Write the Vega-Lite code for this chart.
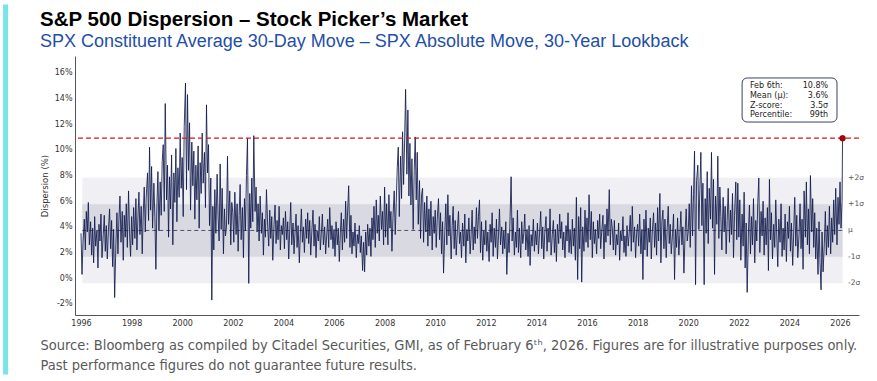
{
"$schema": "https://vega.github.io/schema/vega-lite/v6.json",
"width": 784, "height": 259,
"autosize": {"type": "none"},
"padding": {"left": 75, "top": 56, "right": 18, "bottom": 66},
"background": "white",
"config": {"view": {"stroke": null}, "axis": {"grid": false, "ticks": false, "labelOverlap": false, "domainColor": "#555555", "domainWidth": 1, "labelFont": "DejaVu Sans", "labelFontSize": 8, "labelColor": "#333333"}},
"title": {"text": "S&P 500 Dispersion – Stock Picker’s Market", "subtitle": "SPX Constituent Average 30-Day Move – SPX Absolute Move, 30-Year Lookback", "anchor": "start", "frame": "group", "dx": -35, "dy": 52, "offset": 6, "font": "Liberation Sans", "fontSize": 20.5, "fontWeight": "bold", "color": "#000000", "subtitleFont": "Liberation Sans", "subtitleFontSize": 18, "subtitleColor": "#1f4fa8", "subtitlePadding": 2},
"datasets": {
"bands": [{"b": "2σ", "lo": -0.38, "hi": 7.82}, {"b": "1σ", "lo": 1.67, "hi": 5.77}],
"levels": [{"name": "+2σ", "y": 7.82}, {"name": "+1σ", "y": 5.77}, {"name": "μ", "y": 3.72}, {"name": "-1σ", "y": 1.67}, {"name": "-2σ", "y": -0.38}],
"latest": [{"t": 2026.1, "v": 10.9}],
"stats": [{"keys": ["Feb 6th:", "Mean (μ):", "Z-score:", "Percentile:"], "vals": ["10.8%", "3.6%", "3.5σ", "99th"]}],
"series": [
{"t":1996.00,"v":3.5},{"t":1996.04,"v":0.3},{"t":1996.08,"v":2.8},{"t":1996.13,"v":4.6},{"t":1996.17,"v":2.2},{"t":1996.21,"v":5.2},{"t":1996.25,"v":3.6},{"t":1996.29,"v":5.9},{"t":1996.33,"v":2.6},{"t":1996.38,"v":4.4},{"t":1996.42,"v":1.8},{"t":1996.46,"v":3.9},{"t":1996.50,"v":1.2},{"t":1996.54,"v":4.8},{"t":1996.58,"v":2.5},{"t":1996.63,"v":3.7},{"t":1996.67,"v":0.8},{"t":1996.71,"v":4.2},{"t":1996.75,"v":2.9},{"t":1996.79,"v":5.0},{"t":1996.83,"v":1.6},{"t":1996.88,"v":3.4},{"t":1996.92,"v":4.9},{"t":1996.96,"v":2.1},
{"t":1997.00,"v":4.1},{"t":1997.04,"v":1.5},{"t":1997.08,"v":3.6},{"t":1997.13,"v":5.4},{"t":1997.17,"v":2.3},{"t":1997.21,"v":4.5},{"t":1997.25,"v":0.9},{"t":1997.29,"v":3.8},{"t":1997.33,"v":-1.5},{"t":1997.38,"v":2.7},{"t":1997.42,"v":5.1},{"t":1997.46,"v":1.9},{"t":1997.50,"v":4.6},{"t":1997.54,"v":6.4},{"t":1997.58,"v":2.8},{"t":1997.63,"v":5.2},{"t":1997.67,"v":1.4},{"t":1997.71,"v":4.9},{"t":1997.75,"v":3.2},{"t":1997.79,"v":5.8},{"t":1997.83,"v":2.4},{"t":1997.88,"v":6.8},{"t":1997.92,"v":3.5},{"t":1997.96,"v":1.7},
{"t":1998.00,"v":4.8},{"t":1998.04,"v":2.6},{"t":1998.08,"v":5.5},{"t":1998.13,"v":3.1},{"t":1998.17,"v":6.2},{"t":1998.21,"v":2.2},{"t":1998.25,"v":4.7},{"t":1998.29,"v":6.7},{"t":1998.33,"v":3.4},{"t":1998.38,"v":5.6},{"t":1998.42,"v":1.9},{"t":1998.46,"v":5.0},{"t":1998.50,"v":7.1},{"t":1998.54,"v":3.6},{"t":1998.58,"v":6.4},{"t":1998.63,"v":8.2},{"t":1998.67,"v":4.5},{"t":1998.71,"v":10.2},{"t":1998.75,"v":5.3},{"t":1998.79,"v":8.7},{"t":1998.83,"v":3.9},{"t":1998.88,"v":7.4},{"t":1998.92,"v":4.8},{"t":1998.96,"v":0.7},
{"t":1999.00,"v":5.6},{"t":1999.04,"v":8.3},{"t":1999.08,"v":3.7},{"t":1999.13,"v":7.5},{"t":1999.17,"v":4.9},{"t":1999.21,"v":9.1},{"t":1999.25,"v":10.4},{"t":1999.29,"v":5.2},{"t":1999.33,"v":13.6},{"t":1999.38,"v":6.1},{"t":1999.42,"v":8.8},{"t":1999.46,"v":3.2},{"t":1999.50,"v":7.9},{"t":1999.54,"v":5.4},{"t":1999.58,"v":9.6},{"t":1999.63,"v":2.6},{"t":1999.67,"v":8.2},{"t":1999.71,"v":5.9},{"t":1999.75,"v":10.1},{"t":1999.79,"v":4.4},{"t":1999.83,"v":8.6},{"t":1999.88,"v":6.3},{"t":1999.92,"v":11.3},{"t":1999.96,"v":7.0},
{"t":2000.00,"v":9.4},{"t":2000.04,"v":4.8},{"t":2000.08,"v":11.8},{"t":2000.13,"v":15.2},{"t":2000.17,"v":6.9},{"t":2000.21,"v":14.3},{"t":2000.25,"v":8.4},{"t":2000.29,"v":12.1},{"t":2000.33,"v":5.3},{"t":2000.38,"v":10.6},{"t":2000.42,"v":7.2},{"t":2000.46,"v":9.9},{"t":2000.50,"v":4.6},{"t":2000.54,"v":8.8},{"t":2000.58,"v":6.1},{"t":2000.63,"v":10.3},{"t":2000.67,"v":3.9},{"t":2000.71,"v":9.0},{"t":2000.75,"v":6.6},{"t":2000.79,"v":11.3},{"t":2000.83,"v":7.4},{"t":2000.88,"v":9.8},{"t":2000.92,"v":5.5},{"t":2000.96,"v":13.5},
{"t":2001.00,"v":8.2},{"t":2001.04,"v":10.4},{"t":2001.08,"v":4.1},{"t":2001.13,"v":7.8},{"t":2001.17,"v":-1.7},{"t":2001.21,"v":5.6},{"t":2001.25,"v":2.2},{"t":2001.29,"v":6.9},{"t":2001.33,"v":3.5},{"t":2001.38,"v":8.1},{"t":2001.42,"v":4.7},{"t":2001.46,"v":2.9},{"t":2001.50,"v":8.9},{"t":2001.54,"v":3.8},{"t":2001.58,"v":7.0},{"t":2001.63,"v":1.9},{"t":2001.67,"v":5.4},{"t":2001.71,"v":3.3},{"t":2001.75,"v":4.0},{"t":2001.79,"v":9.5},{"t":2001.83,"v":4.2},{"t":2001.88,"v":6.8},{"t":2001.92,"v":2.6},{"t":2001.96,"v":5.9},
{"t":2002.00,"v":5.1},{"t":2002.04,"v":2.8},{"t":2002.08,"v":6.7},{"t":2002.13,"v":3.4},{"t":2002.17,"v":5.8},{"t":2002.21,"v":2.1},{"t":2002.25,"v":4.9},{"t":2002.29,"v":7.3},{"t":2002.33,"v":3.0},{"t":2002.38,"v":5.5},{"t":2002.42,"v":1.6},{"t":2002.46,"v":6.2},{"t":2002.50,"v":3.7},{"t":2002.54,"v":8.0},{"t":2002.58,"v":10.9},{"t":2002.63,"v":-0.4},{"t":2002.67,"v":6.6},{"t":2002.71,"v":3.9},{"t":2002.75,"v":7.8},{"t":2002.79,"v":4.4},{"t":2002.83,"v":11.1},{"t":2002.88,"v":5.2},{"t":2002.92,"v":7.1},{"t":2002.96,"v":3.6},
{"t":2003.00,"v":5.8},{"t":2003.04,"v":2.9},{"t":2003.08,"v":6.4},{"t":2003.13,"v":3.5},{"t":2003.17,"v":5.1},{"t":2003.21,"v":1.8},{"t":2003.25,"v":4.6},{"t":2003.29,"v":3.2},{"t":2003.33,"v":6.9},{"t":2003.38,"v":4.0},{"t":2003.42,"v":2.5},{"t":2003.46,"v":5.3},{"t":2003.50,"v":3.1},{"t":2003.54,"v":4.8},{"t":2003.58,"v":1.4},{"t":2003.63,"v":4.2},{"t":2003.67,"v":5.7},{"t":2003.71,"v":2.7},{"t":2003.75,"v":4.5},{"t":2003.79,"v":3.0},{"t":2003.83,"v":5.6},{"t":2003.88,"v":2.2},{"t":2003.92,"v":4.1},{"t":2003.96,"v":3.4},
{"t":2004.00,"v":4.7},{"t":2004.04,"v":2.3},{"t":2004.08,"v":5.2},{"t":2004.13,"v":3.0},{"t":2004.17,"v":4.4},{"t":2004.21,"v":1.5},{"t":2004.25,"v":3.8},{"t":2004.29,"v":5.9},{"t":2004.33,"v":2.6},{"t":2004.38,"v":4.3},{"t":2004.42,"v":1.9},{"t":2004.46,"v":3.6},{"t":2004.50,"v":5.0},{"t":2004.54,"v":2.4},{"t":2004.58,"v":4.1},{"t":2004.63,"v":1.2},{"t":2004.67,"v":3.5},{"t":2004.71,"v":5.4},{"t":2004.75,"v":2.8},{"t":2004.79,"v":4.0},{"t":2004.83,"v":2.0},{"t":2004.88,"v":4.6},{"t":2004.92,"v":3.1},{"t":2004.96,"v":5.1},
{"t":2005.00,"v":2.7},{"t":2005.04,"v":4.5},{"t":2005.08,"v":1.8},{"t":2005.13,"v":3.9},{"t":2005.17,"v":5.3},{"t":2005.21,"v":2.5},{"t":2005.25,"v":4.2},{"t":2005.29,"v":1.6},{"t":2005.33,"v":3.7},{"t":2005.38,"v":2.9},{"t":2005.42,"v":4.8},{"t":2005.46,"v":2.2},{"t":2005.50,"v":3.5},{"t":2005.54,"v":5.0},{"t":2005.58,"v":2.6},{"t":2005.63,"v":4.0},{"t":2005.67,"v":1.9},{"t":2005.71,"v":3.3},{"t":2005.75,"v":4.6},{"t":2005.79,"v":2.4},{"t":2005.83,"v":5.5},{"t":2005.88,"v":3.0},{"t":2005.92,"v":4.1},{"t":2005.96,"v":2.3},
{"t":2006.00,"v":3.8},{"t":2006.04,"v":1.7},{"t":2006.08,"v":4.4},{"t":2006.13,"v":2.6},{"t":2006.17,"v":3.9},{"t":2006.21,"v":1.3},{"t":2006.25,"v":3.5},{"t":2006.29,"v":5.1},{"t":2006.33,"v":2.2},{"t":2006.38,"v":4.6},{"t":2006.42,"v":2.8},{"t":2006.46,"v":6.0},{"t":2006.50,"v":3.1},{"t":2006.54,"v":5.3},{"t":2006.58,"v":7.2},{"t":2006.63,"v":2.4},{"t":2006.67,"v":4.9},{"t":2006.71,"v":1.9},{"t":2006.75,"v":3.6},{"t":2006.79,"v":2.5},{"t":2006.83,"v":4.3},{"t":2006.88,"v":1.6},{"t":2006.92,"v":3.4},{"t":2006.96,"v":2.7},
{"t":2007.00,"v":4.1},{"t":2007.04,"v":2.0},{"t":2007.08,"v":3.3},{"t":2007.13,"v":0.6},{"t":2007.17,"v":2.8},{"t":2007.21,"v":0.5},{"t":2007.25,"v":3.6},{"t":2007.29,"v":1.8},{"t":2007.33,"v":4.2},{"t":2007.38,"v":2.5},{"t":2007.42,"v":3.9},{"t":2007.46,"v":1.7},{"t":2007.50,"v":4.7},{"t":2007.54,"v":3.0},{"t":2007.58,"v":5.6},{"t":2007.63,"v":2.4},{"t":2007.67,"v":6.1},{"t":2007.71,"v":3.5},{"t":2007.75,"v":4.9},{"t":2007.79,"v":2.9},{"t":2007.83,"v":6.4},{"t":2007.88,"v":3.8},{"t":2007.92,"v":5.2},{"t":2007.96,"v":2.6},
{"t":2008.00,"v":7.1},{"t":2008.04,"v":3.2},{"t":2008.08,"v":5.8},{"t":2008.13,"v":2.6},{"t":2008.17,"v":6.5},{"t":2008.21,"v":3.9},{"t":2008.25,"v":5.2},{"t":2008.29,"v":2.1},{"t":2008.33,"v":4.7},{"t":2008.38,"v":6.8},{"t":2008.42,"v":3.4},{"t":2008.46,"v":5.9},{"t":2008.50,"v":8.6},{"t":2008.54,"v":10.2},{"t":2008.58,"v":4.8},{"t":2008.63,"v":9.5},{"t":2008.67,"v":6.2},{"t":2008.71,"v":11.4},{"t":2008.75,"v":7.3},{"t":2008.79,"v":10.6},{"t":2008.83,"v":14.7},{"t":2008.88,"v":8.1},{"t":2008.92,"v":13.1},{"t":2008.96,"v":6.4},
{"t":2009.00,"v":10.5},{"t":2009.04,"v":5.7},{"t":2009.08,"v":9.3},{"t":2009.13,"v":3.8},{"t":2009.17,"v":8.4},{"t":2009.21,"v":11.0},{"t":2009.25,"v":6.1},{"t":2009.29,"v":9.8},{"t":2009.33,"v":4.2},{"t":2009.38,"v":7.6},{"t":2009.42,"v":3.1},{"t":2009.46,"v":6.5},{"t":2009.50,"v":7.0},{"t":2009.54,"v":2.8},{"t":2009.58,"v":5.9},{"t":2009.63,"v":3.6},{"t":2009.67,"v":6.4},{"t":2009.71,"v":2.5},{"t":2009.75,"v":5.4},{"t":2009.79,"v":3.3},{"t":2009.83,"v":6.0},{"t":2009.88,"v":2.2},{"t":2009.92,"v":4.8},{"t":2009.96,"v":3.5},
{"t":2010.00,"v":5.3},{"t":2010.04,"v":2.4},{"t":2010.08,"v":4.6},{"t":2010.13,"v":6.2},{"t":2010.17,"v":3.0},{"t":2010.21,"v":5.1},{"t":2010.25,"v":1.9},{"t":2010.29,"v":4.4},{"t":2010.33,"v":0.4},{"t":2010.38,"v":3.7},{"t":2010.42,"v":5.8},{"t":2010.46,"v":2.6},{"t":2010.50,"v":6.5},{"t":2010.54,"v":3.3},{"t":2010.58,"v":4.9},{"t":2010.63,"v":1.5},{"t":2010.67,"v":4.1},{"t":2010.71,"v":5.6},{"t":2010.75,"v":2.3},{"t":2010.79,"v":4.5},{"t":2010.83,"v":1.8},{"t":2010.88,"v":3.9},{"t":2010.92,"v":5.2},{"t":2010.96,"v":2.7},
{"t":2011.00,"v":3.6},{"t":2011.04,"v":1.6},{"t":2011.08,"v":4.3},{"t":2011.13,"v":2.5},{"t":2011.17,"v":5.0},{"t":2011.21,"v":1.2},{"t":2011.25,"v":3.8},{"t":2011.29,"v":2.9},{"t":2011.33,"v":4.7},{"t":2011.38,"v":1.9},{"t":2011.42,"v":3.4},{"t":2011.46,"v":5.3},{"t":2011.50,"v":2.2},{"t":2011.54,"v":4.0},{"t":2011.58,"v":2.7},{"t":2011.63,"v":5.5},{"t":2011.67,"v":3.1},{"t":2011.71,"v":4.8},{"t":2011.75,"v":6.1},{"t":2011.79,"v":2.0},{"t":2011.83,"v":4.4},{"t":2011.88,"v":1.4},{"t":2011.92,"v":3.7},{"t":2011.96,"v":2.6},
{"t":2012.00,"v":4.5},{"t":2012.04,"v":2.1},{"t":2012.08,"v":3.6},{"t":2012.13,"v":1.3},{"t":2012.17,"v":4.2},{"t":2012.21,"v":2.8},{"t":2012.25,"v":5.1},{"t":2012.29,"v":1.7},{"t":2012.33,"v":3.9},{"t":2012.38,"v":2.4},{"t":2012.42,"v":4.6},{"t":2012.46,"v":1.5},{"t":2012.50,"v":3.3},{"t":2012.54,"v":5.4},{"t":2012.58,"v":2.6},{"t":2012.63,"v":4.0},{"t":2012.67,"v":1.9},{"t":2012.71,"v":3.7},{"t":2012.75,"v":2.3},{"t":2012.79,"v":4.4},{"t":2012.83,"v":0.3},{"t":2012.88,"v":3.5},{"t":2012.92,"v":2.0},{"t":2012.96,"v":4.8},
{"t":2013.00,"v":7.9},{"t":2013.04,"v":2.9},{"t":2013.08,"v":4.7},{"t":2013.13,"v":1.8},{"t":2013.17,"v":3.6},{"t":2013.21,"v":2.4},{"t":2013.25,"v":5.3},{"t":2013.29,"v":2.0},{"t":2013.33,"v":3.9},{"t":2013.38,"v":1.6},{"t":2013.42,"v":4.4},{"t":2013.46,"v":2.7},{"t":2013.50,"v":3.5},{"t":2013.54,"v":5.0},{"t":2013.58,"v":2.2},{"t":2013.63,"v":3.8},{"t":2013.67,"v":1.7},{"t":2013.71,"v":4.1},{"t":2013.75,"v":1.0},{"t":2013.79,"v":3.4},{"t":2013.83,"v":2.5},{"t":2013.88,"v":4.6},{"t":2013.92,"v":2.1},{"t":2013.96,"v":3.7},
{"t":2014.00,"v":2.6},{"t":2014.04,"v":4.3},{"t":2014.08,"v":1.9},{"t":2014.13,"v":3.7},{"t":2014.17,"v":5.2},{"t":2014.21,"v":2.3},{"t":2014.25,"v":4.0},{"t":2014.29,"v":1.5},{"t":2014.33,"v":3.5},{"t":2014.38,"v":4.8},{"t":2014.42,"v":2.1},{"t":2014.46,"v":3.9},{"t":2014.50,"v":2.8},{"t":2014.54,"v":5.4},{"t":2014.58,"v":1.8},{"t":2014.63,"v":3.4},{"t":2014.67,"v":4.5},{"t":2014.71,"v":2.0},{"t":2014.75,"v":3.8},{"t":2014.79,"v":1.3},{"t":2014.83,"v":4.2},{"t":2014.88,"v":2.7},{"t":2014.92,"v":5.0},{"t":2014.96,"v":3.1},
{"t":2015.00,"v":4.4},{"t":2015.04,"v":2.2},{"t":2015.08,"v":3.6},{"t":2015.13,"v":1.6},{"t":2015.17,"v":4.1},{"t":2015.21,"v":2.9},{"t":2015.25,"v":5.1},{"t":2015.29,"v":2.0},{"t":2015.33,"v":3.8},{"t":2015.38,"v":1.9},{"t":2015.42,"v":4.6},{"t":2015.46,"v":2.5},{"t":2015.50,"v":3.9},{"t":2015.54,"v":1.4},{"t":2015.58,"v":6.3},{"t":2015.63,"v":-0.1},{"t":2015.67,"v":4.8},{"t":2015.71,"v":2.3},{"t":2015.75,"v":5.5},{"t":2015.79,"v":-0.3},{"t":2015.83,"v":4.0},{"t":2015.88,"v":2.1},{"t":2015.92,"v":5.3},{"t":2015.96,"v":2.8},
{"t":2016.00,"v":4.7},{"t":2016.04,"v":2.4},{"t":2016.08,"v":6.5},{"t":2016.13,"v":3.0},{"t":2016.17,"v":5.2},{"t":2016.21,"v":1.6},{"t":2016.25,"v":4.4},{"t":2016.29,"v":2.7},{"t":2016.33,"v":3.8},{"t":2016.38,"v":1.9},{"t":2016.42,"v":4.5},{"t":2016.46,"v":3.1},{"t":2016.50,"v":5.0},{"t":2016.54,"v":2.3},{"t":2016.58,"v":3.6},{"t":2016.63,"v":4.9},{"t":2016.67,"v":1.5},{"t":2016.71,"v":4.2},{"t":2016.75,"v":2.8},{"t":2016.79,"v":5.4},{"t":2016.83,"v":3.3},{"t":2016.88,"v":6.9},{"t":2016.92,"v":2.6},{"t":2016.96,"v":4.6},
{"t":2017.00,"v":3.9},{"t":2017.04,"v":2.2},{"t":2017.08,"v":4.5},{"t":2017.13,"v":1.8},{"t":2017.17,"v":3.4},{"t":2017.21,"v":2.6},{"t":2017.25,"v":4.3},{"t":2017.29,"v":1.4},{"t":2017.33,"v":3.7},{"t":2017.38,"v":2.9},{"t":2017.42,"v":4.8},{"t":2017.46,"v":2.0},{"t":2017.50,"v":3.3},{"t":2017.54,"v":1.7},{"t":2017.58,"v":4.1},{"t":2017.63,"v":2.5},{"t":2017.67,"v":3.6},{"t":2017.71,"v":4.9},{"t":2017.75,"v":2.1},{"t":2017.79,"v":5.6},{"t":2017.83,"v":2.8},{"t":2017.88,"v":4.0},{"t":2017.92,"v":1.6},{"t":2017.96,"v":3.5},
{"t":2018.00,"v":4.2},{"t":2018.04,"v":2.5},{"t":2018.08,"v":5.0},{"t":2018.13,"v":1.9},{"t":2018.17,"v":3.8},{"t":2018.21,"v":-0.1},{"t":2018.25,"v":4.6},{"t":2018.29,"v":2.2},{"t":2018.33,"v":5.3},{"t":2018.38,"v":1.7},{"t":2018.42,"v":3.9},{"t":2018.46,"v":2.8},{"t":2018.50,"v":4.7},{"t":2018.54,"v":1.5},{"t":2018.58,"v":3.6},{"t":2018.63,"v":5.1},{"t":2018.67,"v":2.4},{"t":2018.71,"v":4.3},{"t":2018.75,"v":1.8},{"t":2018.79,"v":5.5},{"t":2018.83,"v":2.9},{"t":2018.88,"v":6.6},{"t":2018.92,"v":1.2},{"t":2018.96,"v":4.4},
{"t":2019.00,"v":5.3},{"t":2019.04,"v":2.3},{"t":2019.08,"v":4.6},{"t":2019.13,"v":1.6},{"t":2019.17,"v":3.9},{"t":2019.21,"v":5.6},{"t":2019.25,"v":2.7},{"t":2019.29,"v":4.2},{"t":2019.33,"v":1.9},{"t":2019.38,"v":3.5},{"t":2019.42,"v":5.0},{"t":2019.46,"v":-0.1},{"t":2019.50,"v":3.8},{"t":2019.54,"v":2.4},{"t":2019.58,"v":4.7},{"t":2019.63,"v":1.8},{"t":2019.67,"v":3.4},{"t":2019.71,"v":5.2},{"t":2019.75,"v":2.6},{"t":2019.79,"v":4.0},{"t":2019.83,"v":0.4},{"t":2019.88,"v":3.7},{"t":2019.92,"v":5.4},{"t":2019.96,"v":2.9},
{"t":2020.00,"v":3.6},{"t":2020.04,"v":5.8},{"t":2020.08,"v":2.4},{"t":2020.13,"v":7.2},{"t":2020.17,"v":3.3},{"t":2020.21,"v":6.5},{"t":2020.25,"v":9.9},{"t":2020.29,"v":-0.5},{"t":2020.33,"v":7.6},{"t":2020.38,"v":8.8},{"t":2020.42,"v":3.8},{"t":2020.46,"v":6.9},{"t":2020.50,"v":9.8},{"t":2020.54,"v":4.1},{"t":2020.58,"v":7.4},{"t":2020.63,"v":-0.5},{"t":2020.67,"v":6.2},{"t":2020.71,"v":3.5},{"t":2020.75,"v":8.3},{"t":2020.79,"v":2.7},{"t":2020.83,"v":7.0},{"t":2020.88,"v":4.6},{"t":2020.92,"v":9.8},{"t":2020.96,"v":3.9},
{"t":2021.00,"v":7.7},{"t":2021.04,"v":0.3},{"t":2021.08,"v":6.4},{"t":2021.13,"v":4.2},{"t":2021.17,"v":9.5},{"t":2021.21,"v":3.1},{"t":2021.25,"v":7.1},{"t":2021.29,"v":4.8},{"t":2021.33,"v":2.2},{"t":2021.38,"v":6.3},{"t":2021.42,"v":3.6},{"t":2021.46,"v":5.6},{"t":2021.50,"v":1.9},{"t":2021.54,"v":4.5},{"t":2021.58,"v":7.0},{"t":2021.63,"v":2.8},{"t":2021.67,"v":5.3},{"t":2021.71,"v":3.4},{"t":2021.75,"v":6.6},{"t":2021.79,"v":1.6},{"t":2021.83,"v":4.9},{"t":2021.88,"v":7.5},{"t":2021.92,"v":3.0},{"t":2021.96,"v":7.4},
{"t":2022.00,"v":3.2},{"t":2022.04,"v":6.1},{"t":2022.08,"v":1.4},{"t":2022.13,"v":5.0},{"t":2022.17,"v":2.5},{"t":2022.21,"v":6.7},{"t":2022.25,"v":0.8},{"t":2022.29,"v":4.3},{"t":2022.33,"v":-1.1},{"t":2022.38,"v":3.6},{"t":2022.42,"v":5.7},{"t":2022.46,"v":1.9},{"t":2022.50,"v":4.8},{"t":2022.54,"v":2.6},{"t":2022.58,"v":6.2},{"t":2022.63,"v":1.2},{"t":2022.67,"v":4.5},{"t":2022.71,"v":2.9},{"t":2022.75,"v":5.9},{"t":2022.79,"v":7.8},{"t":2022.83,"v":2.0},{"t":2022.88,"v":5.2},{"t":2022.92,"v":3.3},{"t":2022.96,"v":6.0},
{"t":2023.00,"v":1.8},{"t":2023.04,"v":4.7},{"t":2023.08,"v":2.6},{"t":2023.13,"v":5.5},{"t":2023.17,"v":0.6},{"t":2023.21,"v":7.7},{"t":2023.25,"v":3.0},{"t":2023.29,"v":5.1},{"t":2023.33,"v":1.5},{"t":2023.38,"v":4.2},{"t":2023.42,"v":2.4},{"t":2023.46,"v":6.1},{"t":2023.50,"v":3.3},{"t":2023.54,"v":0.9},{"t":2023.58,"v":4.6},{"t":2023.63,"v":2.8},{"t":2023.67,"v":5.8},{"t":2023.71,"v":1.7},{"t":2023.75,"v":3.9},{"t":2023.79,"v":2.2},{"t":2023.83,"v":5.0},{"t":2023.88,"v":1.3},{"t":2023.92,"v":4.4},{"t":2023.96,"v":3.1},
{"t":2024.00,"v":5.6},{"t":2024.04,"v":2.1},{"t":2024.08,"v":4.3},{"t":2024.13,"v":1.0},{"t":2024.17,"v":3.7},{"t":2024.21,"v":6.3},{"t":2024.25,"v":2.5},{"t":2024.29,"v":4.9},{"t":2024.33,"v":1.6},{"t":2024.38,"v":3.4},{"t":2024.42,"v":5.8},{"t":2024.46,"v":2.3},{"t":2024.50,"v":4.6},{"t":2024.54,"v":0.7},{"t":2024.58,"v":6.8},{"t":2024.63,"v":3.2},{"t":2024.67,"v":7.5},{"t":2024.71,"v":2.6},{"t":2024.75,"v":5.4},{"t":2024.79,"v":1.9},{"t":2024.83,"v":8.0},{"t":2024.88,"v":3.6},{"t":2024.92,"v":6.2},{"t":2024.96,"v":2.4},
{"t":2025.00,"v":5.1},{"t":2025.04,"v":1.5},{"t":2025.08,"v":3.9},{"t":2025.13,"v":0.3},{"t":2025.17,"v":4.4},{"t":2025.21,"v":1.2},{"t":2025.25,"v":-0.9},{"t":2025.29,"v":3.6},{"t":2025.33,"v":0.5},{"t":2025.38,"v":2.7},{"t":2025.42,"v":5.2},{"t":2025.46,"v":1.8},{"t":2025.50,"v":4.1},{"t":2025.54,"v":2.4},{"t":2025.58,"v":5.6},{"t":2025.63,"v":1.9},{"t":2025.67,"v":4.7},{"t":2025.71,"v":2.8},{"t":2025.75,"v":6.1},{"t":2025.79,"v":3.4},{"t":2025.83,"v":7.0},{"t":2025.88,"v":2.6},{"t":2025.92,"v":6.3},{"t":2025.96,"v":4.2},
{"t":2026.00,"v":7.5},{"t":2026.04,"v":3.9},{"t":2026.08,"v":6.0},{"t":2026.10,"v":10.9}
]},
"layer": [
{"data": {"name": "bands"}, "mark": {"type": "rect"},
 "encoding": {"x": {"datum": 1996.05}, "x2": {"datum": 2026.1}, "y": {"field": "lo", "type": "quantitative", "title": "Dispersion (%)"}, "y2": {"field": "hi"},
  "color": {"field": "b", "type": "nominal", "scale": {"domain": ["2σ", "1σ"], "range": ["#f0f0f4", "#d8d9e1"]}, "legend": null}}},
{"data": {"name": "levels"}, "transform": [{"filter": "datum.name === 'μ'"}], "mark": {"type": "rule", "color": "#2b3152", "strokeDash": [4, 3], "strokeWidth": 0.8},
 "encoding": {"x": {"datum": 1996.05}, "x2": {"datum": 2026.1}, "y": {"field": "y", "type": "quantitative", "title": "Dispersion (%)"}}},
{"data": {"name": "series"}, "mark": {"type": "line", "color": "#111a4b", "strokeWidth": 1, "opacity": 0.85},
 "encoding": {
  "x": {"field": "t", "type": "quantitative", "scale": {"domain": [1995.763, 2026.75], "nice": false, "zero": false},
   "axis": {"values": [1996, 1998, 2000, 2002, 2004, 2006, 2008, 2010, 2012, 2014, 2016, 2018, 2020, 2022, 2024, 2026], "tickCount": 40, "format": "d", "labelPadding": 4, "labelFlush": false, "labelOverlap": false,
    "title": ["Source: Bloomberg as compiled by Citadel Securities, GMI, as of February 6ᵗʰ, 2026. Figures are for illustrative purposes only.", "Past performance figures do not guarantee future results."],
    "titleFont": "Liberation Sans Narrow, DejaVu Sans Condensed, Arial Narrow, sans-serif", "titleFontSize": 14.5, "titleFontWeight": "normal", "titleColor": "#595959", "titleAnchor": "start", "titleAlign": "left", "titleX": -35, "titleY": 34, "titleBaseline": "alphabetic", "titleLineHeight": 20}},
  "y": {"field": "v", "type": "quantitative", "scale": {"domain": [-2.86, 17.3], "nice": false, "zero": false},
   "axis": {"values": [-2, 0, 2, 4, 6, 8, 10, 12, 14, 16], "tickCount": 20, "labelExpr": "datum.value + '%'", "labelOverlap": false, "labelPadding": 3, "title": "Dispersion (%)", "titleFont": "DejaVu Sans", "titleFontSize": 8.5, "titleFontWeight": "normal", "titleColor": "#333333", "titlePadding": 5}}}},
{"data": {"name": "latest"}, "mark": {"type": "rule", "color": "#d7191c", "strokeDash": [5, 3], "strokeWidth": 1.3},
 "encoding": {"y": {"field": "v", "type": "quantitative", "title": "Dispersion (%)"}}},
{"data": {"name": "latest"}, "mark": {"type": "point", "filled": true, "color": "#b30000", "size": 32, "opacity": 1, "stroke": "#7a0000", "strokeWidth": 0.8},
 "encoding": {"x": {"field": "t", "type": "quantitative"}, "y": {"field": "v", "type": "quantitative", "title": "Dispersion (%)"}}},
{"data": {"name": "levels"}, "mark": {"type": "text", "align": "left", "baseline": "middle", "font": "DejaVu Sans", "fontSize": 7.5, "color": "#555555"},
 "encoding": {"x": {"datum": 2026.32}, "y": {"field": "y", "type": "quantitative", "title": "Dispersion (%)"}, "text": {"field": "name"}}},
{"data": {"name": "latest"}, "mark": {"type": "rect", "fill": "white", "stroke": "#3b4264", "strokeWidth": 1, "cornerRadius": 5},
 "encoding": {"x": {"datum": 2022.13}, "x2": {"datum": 2025.88}, "y": {"datum": 15.59}, "y2": {"datum": 12.16}}},
{"data": {"name": "stats"}, "mark": {"type": "text", "align": "left", "baseline": "middle", "font": "DejaVu Sans", "fontSize": 8, "lineHeight": 9.8, "color": "#222222"},
 "encoding": {"x": {"datum": 2022.44}, "y": {"datum": 14.96}, "text": {"field": "keys"}}},
{"data": {"name": "stats"}, "mark": {"type": "text", "align": "right", "baseline": "middle", "font": "DejaVu Sans", "fontSize": 8, "lineHeight": 9.8, "color": "#222222"},
 "encoding": {"x": {"datum": 2025.53}, "y": {"datum": 14.96}, "text": {"field": "vals"}}},
{"data": {"name": "latest"}, "mark": {"type": "rect", "color": "#7ae3e6"},
 "encoding": {"x": {"datum": 1992.92}, "x2": {"datum": 1993.12}, "y": {"datum": 21.3}, "y2": {"datum": -7.5}}}
]
}
